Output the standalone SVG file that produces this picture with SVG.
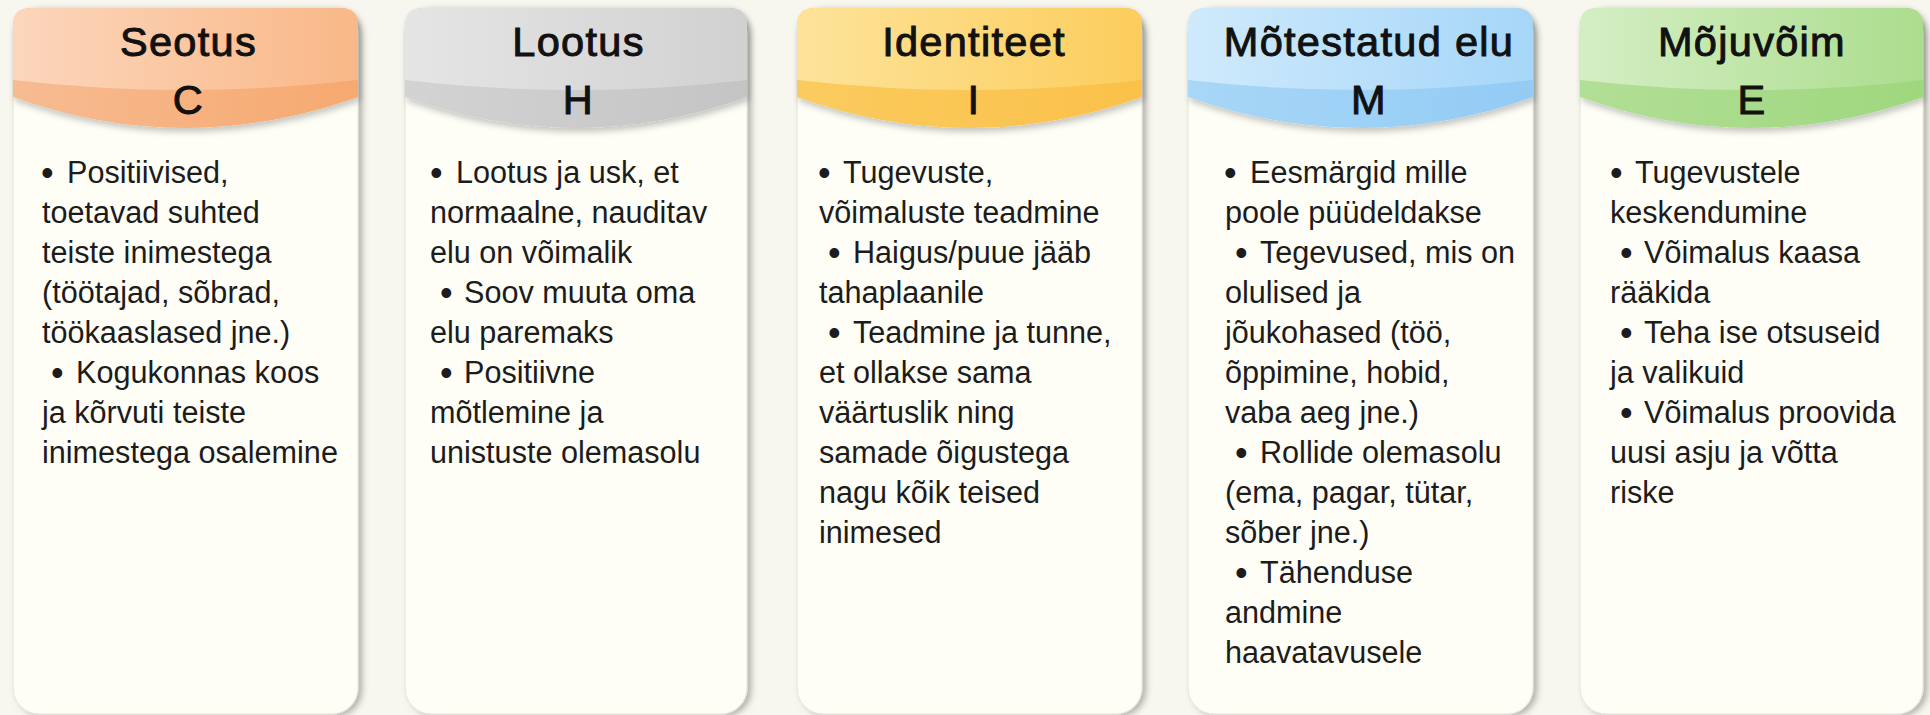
<svg xmlns="http://www.w3.org/2000/svg" width="1930" height="715" viewBox="0 0 1930 715">
<defs>
<style>
.card{fill:#fefef7;stroke:#e4e4da;stroke-width:1;filter:url(#cardShadow)}
.title{font-family:"Liberation Sans",Arial,sans-serif;font-size:41.5px;font-weight:normal;fill:#111;stroke:#111;stroke-width:1px;letter-spacing:1.3px;text-anchor:middle}
.body{font-family:"Liberation Sans",Arial,sans-serif;font-size:30.6px;fill:#1c1c1c}
.b{font-size:36px}
.hdr{filter:url(#hdrShadow)}
</style>
<filter id="cardShadow" x="-10%" y="-5%" width="125%" height="115%">
<feDropShadow dx="4" dy="2" stdDeviation="3" flood-color="#000" flood-opacity="0.28"/>
</filter>
<filter id="hdrShadow" x="-10%" y="-20%" width="125%" height="150%">
<feDropShadow dx="2" dy="4" stdDeviation="3" flood-color="#000" flood-opacity="0.22"/>
</filter>
<linearGradient id="oBase" x1="0" y1="0" x2="1" y2="0"><stop offset="0" stop-color="#f7bb92"/><stop offset="1" stop-color="#f6a96f"/></linearGradient>
<linearGradient id="oUp" x1="0" y1="0" x2="1" y2="0"><stop offset="0" stop-color="#fcd6bd"/><stop offset="1" stop-color="#f9b887"/></linearGradient>
<linearGradient id="gBase" x1="0" y1="0" x2="1" y2="0"><stop offset="0" stop-color="#d3d3d3"/><stop offset="1" stop-color="#c4c4c4"/></linearGradient>
<linearGradient id="gUp" x1="0" y1="0" x2="1" y2="0"><stop offset="0" stop-color="#e5e5e5"/><stop offset="1" stop-color="#d1d1d1"/></linearGradient>
<linearGradient id="yBase" x1="0" y1="0" x2="1" y2="0"><stop offset="0" stop-color="#fbcb5e"/><stop offset="1" stop-color="#fbc14a"/></linearGradient>
<linearGradient id="yUp" x1="0" y1="0" x2="1" y2="0"><stop offset="0" stop-color="#fde39a"/><stop offset="1" stop-color="#fccd5c"/></linearGradient>
<linearGradient id="bBase" x1="0" y1="0" x2="1" y2="0"><stop offset="0" stop-color="#a8d7f7"/><stop offset="1" stop-color="#93cbf5"/></linearGradient>
<linearGradient id="bUp" x1="0" y1="0" x2="1" y2="0"><stop offset="0" stop-color="#cfeafc"/><stop offset="1" stop-color="#a6d6f8"/></linearGradient>
<linearGradient id="eBase" x1="0" y1="0" x2="1" y2="0"><stop offset="0" stop-color="#b1df96"/><stop offset="1" stop-color="#9fd77d"/></linearGradient>
<linearGradient id="eUp" x1="0" y1="0" x2="1" y2="0"><stop offset="0" stop-color="#d4eec4"/><stop offset="1" stop-color="#acdd8e"/></linearGradient>
</defs>
<rect x="0" y="0" width="1930" height="715" fill="#f8f7ef"/>
<g id="connectors"></g>

<g id="card-seotus">
<rect class="card" x="13" y="8" width="345" height="706" rx="26"/>
<path class="hdr" fill="url(#oBase)" d="M13,26 Q13,8 31,8 H340 Q358,8 358,26 V97 Q185.5,159 13,97 Z"/>
<path fill="url(#oUp)" d="M13,26 Q13,8 31,8 H340 Q358,8 358,26 V80 Q185.5,100 13,80 Z"/>
<text class="title" x="188.5" y="56">Seotus</text>
<text class="title" x="188.5" y="114">C</text>
<text class="body" x="41" y="183"><tspan class="b" dy="2">•</tspan> <tspan x="67" dy="-2">Positiivised,</tspan></text>
<text class="body" x="42" y="223">toetavad suhted</text>
<text class="body" x="42" y="263">teiste inimestega</text>
<text class="body" x="42" y="303">(töötajad, sõbrad,</text>
<text class="body" x="42" y="343">töökaaslased jne.)</text>
<text class="body" x="51" y="383"><tspan class="b" dy="2">•</tspan> <tspan x="76" dy="-2">Kogukonnas koos</tspan></text>
<text class="body" x="42" y="423">ja kõrvuti teiste</text>
<text class="body" x="42" y="463">inimestega osalemine</text>
</g>

<g id="card-lootus">
<rect class="card" x="405" y="8" width="342" height="706" rx="26"/>
<path class="hdr" fill="url(#gBase)" d="M405,26 Q405,8 423,8 H729 Q747,8 747,26 V97 Q576,159 405,97 Z"/>
<path fill="url(#gUp)" d="M405,26 Q405,8 423,8 H729 Q747,8 747,26 V80 Q576,100 405,80 Z"/>
<text class="title" x="578.5" y="56">Lootus</text>
<text class="title" x="578.5" y="114">H</text>
<text class="body" x="430" y="183"><tspan class="b" dy="2">•</tspan> <tspan x="456" dy="-2">Lootus ja usk, et</tspan></text>
<text class="body" x="430" y="223">normaalne, nauditav</text>
<text class="body" x="430" y="263">elu on võimalik</text>
<text class="body" x="440" y="303"><tspan class="b" dy="2">•</tspan> <tspan x="464" dy="-2">Soov muuta oma</tspan></text>
<text class="body" x="430" y="343">elu paremaks</text>
<text class="body" x="440" y="383"><tspan class="b" dy="2">•</tspan> <tspan x="464" dy="-2">Positiivne</tspan></text>
<text class="body" x="430" y="423">mõtlemine ja</text>
<text class="body" x="430" y="463">unistuste olemasolu</text>
</g>

<g id="card-identiteet">
<rect class="card" x="797" y="8" width="345" height="706" rx="26"/>
<path class="hdr" fill="url(#yBase)" d="M797,26 Q797,8 815,8 H1124 Q1142,8 1142,26 V97 Q969.5,159 797,97 Z"/>
<path fill="url(#yUp)" d="M797,26 Q797,8 815,8 H1124 Q1142,8 1142,26 V80 Q969.5,100 797,80 Z"/>
<text class="title" x="974" y="56">Identiteet</text>
<text class="title" x="974" y="114">I</text>
<text class="body" x="818" y="183"><tspan class="b" dy="2">•</tspan> <tspan x="843" dy="-2">Tugevuste,</tspan></text>
<text class="body" x="819" y="223">võimaluste teadmine</text>
<text class="body" x="828" y="263"><tspan class="b" dy="2">•</tspan> <tspan x="853" dy="-2">Haigus/puue jääb</tspan></text>
<text class="body" x="819" y="303">tahaplaanile</text>
<text class="body" x="828" y="343"><tspan class="b" dy="2">•</tspan> <tspan x="853" dy="-2">Teadmine ja tunne,</tspan></text>
<text class="body" x="819" y="383">et ollakse sama</text>
<text class="body" x="819" y="423">väärtuslik ning</text>
<text class="body" x="819" y="463">samade õigustega</text>
<text class="body" x="819" y="503">nagu kõik teised</text>
<text class="body" x="819" y="543">inimesed</text>
</g>

<g id="card-motestatud-elu">
<rect class="card" x="1188" y="8" width="345" height="706" rx="26"/>
<path class="hdr" fill="url(#bBase)" d="M1188,26 Q1188,8 1206,8 H1515 Q1533,8 1533,26 V97 Q1360.5,159 1188,97 Z"/>
<path fill="url(#bUp)" d="M1188,26 Q1188,8 1206,8 H1515 Q1533,8 1533,26 V80 Q1360.5,100 1188,80 Z"/>
<text class="title" x="1369" y="56">Mõtestatud elu</text>
<text class="title" x="1369" y="114">M</text>
<text class="body" x="1224" y="183"><tspan class="b" dy="2">•</tspan> <tspan x="1250" dy="-2">Eesmärgid mille</tspan></text>
<text class="body" x="1225" y="223">poole püüdeldakse</text>
<text class="body" x="1235" y="263"><tspan class="b" dy="2">•</tspan> <tspan x="1260" dy="-2">Tegevused, mis on</tspan></text>
<text class="body" x="1225" y="303">olulised ja</text>
<text class="body" x="1225" y="343">jõukohased (töö,</text>
<text class="body" x="1225" y="383">õppimine, hobid,</text>
<text class="body" x="1225" y="423">vaba aeg jne.)</text>
<text class="body" x="1235" y="463"><tspan class="b" dy="2">•</tspan> <tspan x="1260" dy="-2">Rollide olemasolu</tspan></text>
<text class="body" x="1225" y="503">(ema, pagar, tütar,</text>
<text class="body" x="1225" y="543">sõber jne.)</text>
<text class="body" x="1235" y="583"><tspan class="b" dy="2">•</tspan> <tspan x="1260" dy="-2">Tähenduse</tspan></text>
<text class="body" x="1225" y="623">andmine</text>
<text class="body" x="1225" y="663">haavatavusele</text>
</g>

<g id="card-mojuvoim">
<rect class="card" x="1580" y="8" width="343" height="706" rx="26"/>
<path class="hdr" fill="url(#eBase)" d="M1580,26 Q1580,8 1598,8 H1905 Q1923,8 1923,26 V97 Q1751.5,159 1580,97 Z"/>
<path fill="url(#eUp)" d="M1580,26 Q1580,8 1598,8 H1905 Q1923,8 1923,26 V80 Q1751.5,100 1580,80 Z"/>
<text class="title" x="1752" y="56">Mõjuvõim</text>
<text class="title" x="1752" y="114">E</text>
<text class="body" x="1610" y="183"><tspan class="b" dy="2">•</tspan> <tspan x="1635" dy="-2">Tugevustele</tspan></text>
<text class="body" x="1610" y="223">keskendumine</text>
<text class="body" x="1620" y="263"><tspan class="b" dy="2">•</tspan> <tspan x="1644" dy="-2">Võimalus kaasa</tspan></text>
<text class="body" x="1610" y="303">rääkida</text>
<text class="body" x="1620" y="343"><tspan class="b" dy="2">•</tspan> <tspan x="1644" dy="-2">Teha ise otsuseid</tspan></text>
<text class="body" x="1610" y="383">ja valikuid</text>
<text class="body" x="1620" y="423"><tspan class="b" dy="2">•</tspan> <tspan x="1644" dy="-2">Võimalus proovida</tspan></text>
<text class="body" x="1610" y="463">uusi asju ja võtta</text>
<text class="body" x="1610" y="503">riske</text>
</g>
</svg>
